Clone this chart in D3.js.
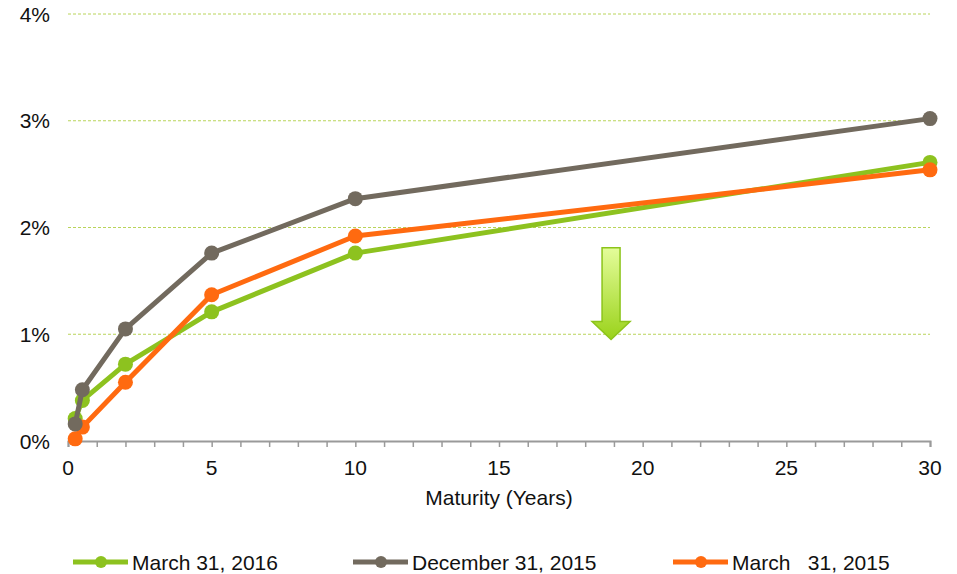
<!DOCTYPE html>
<html>
<head>
<meta charset="utf-8">
<script src="https://cdn.jsdelivr.net/npm/d3@7"></script>
<style>
  body { margin: 0; background: #fff; }
  svg { font-family: "Liberation Sans", Arial, sans-serif; }
</style>
</head>
<body>
<div id="chart"></div>
<script>
// maturities in years
var maturities = [0.25, 0.5, 2, 5, 10, 30]

// yields in percent
var mar2016 = [0.21, 0.38, 0.72, 1.21, 1.76, 2.61]
var dec2015 = [0.16, 0.48, 1.05, 1.76, 2.27, 3.02]
var mar2015 = [0.02, 0.13, 0.55, 1.37, 1.92, 2.54]

var seriesNames = ['March 31, 2016', 'December 31, 2015', 'March   31, 2015']
var seriesColors = ['#8dc21f', '#726a5e', '#ff6a10']

var xTicks = [0, 5, 10, 15, 20, 25, 30]
var yTicks = [0, 1, 2, 3, 4]

var margin = { top: 14, right: 27, bottom: 133, left: 68 },
    width = 957 - margin.left - margin.right,
    height = 574 - margin.top - margin.bottom;

var svg = d3.select("#chart")
    .append("svg")
    .attr("width", 957)
    .attr("height", 574)
    .append("g")
    .attr("transform", "translate(" + margin.left + "," + margin.top + ")");

var x = d3.scaleLinear().domain([0, 30]).range([0, width])
var y = d3.scaleLinear().domain([0, 4]).range([height, 0])

// gridlines
svg.append("g")
    .selectAll("line")
    .data(yTicks.filter(function (d) { return d > 0 }))
    .enter().append("line")
    .attr("x1", 0).attr("x2", width)
    .attr("y1", function (d) { return y(d) }).attr("y2", function (d) { return y(d) })
    .attr("stroke", "#b9d45a")
    .attr("stroke-width", 1)
    .attr("stroke-dasharray", "3,2")

// y labels
svg.append("g")
    .selectAll("text")
    .data(yTicks)
    .enter().append("text")
    .attr("x", -18)
    .attr("y", function (d) { return y(d) })
    .attr("dy", "0.36em")
    .attr("text-anchor", "end")
    .style("font-size", "21px")
    .attr("fill", "#111")
    .text(function (d) { return d + "%" })

// x axis
var xAxis = svg.append("g")
    .attr("transform", "translate(0," + height + ")")
    .call(d3.axisBottom(x).ticks(30).tickSize(6).tickFormat(""))
xAxis.select(".domain").attr("stroke", "#9a9a9a").attr("stroke-width", 2)
xAxis.selectAll(".tick line").attr("stroke", "#9a9a9a").attr("stroke-width", 1.5)

svg.append("g")
    .selectAll("text")
    .data(xTicks)
    .enter().append("text")
    .attr("x", function (d) { return x(d) })
    .attr("y", height + 34)
    .attr("text-anchor", "middle")
    .style("font-size", "21px")
    .attr("fill", "#111")
    .text(function (d) { return d })

svg.append("text")
    .attr("x", width / 2)
    .attr("y", height + 64)
    .attr("text-anchor", "middle")
    .style("font-size", "21px")
    .attr("fill", "#111")
    .text("Maturity (Years)")

// arrow annotation
var defs = svg.append("defs")
var grad = defs.append("linearGradient").attr("id", "arrowGrad")
    .attr("x1", 0).attr("y1", 0).attr("x2", 0).attr("y2", 1)
grad.append("stop").attr("offset", "0%").attr("stop-color", "#e4fd9a")
grad.append("stop").attr("offset", "100%").attr("stop-color", "#9ad21a")

var ax = x(18.9), aTop = y(1.81), aTip = y(0.95), aBase = aTip - 18
var arrowPts = [
    [ax - 9, aTop], [ax + 9, aTop], [ax + 9, aBase], [ax + 19, aBase],
    [ax, aTip], [ax - 19, aBase], [ax - 9, aBase]
]
svg.append("path")
    .attr("d", d3.line()(arrowPts) + "Z")
    .attr("fill", "url(#arrowGrad)")
    .attr("stroke", "#8cc41a")
    .attr("stroke-width", 1.5)

// series lines
var allSeries = [mar2016, dec2015, mar2015]
var line = d3.line()
    .x(function (d, i) { return x(maturities[i]) })
    .y(function (d) { return y(d) })

// draw order: green, orange, gray on top
var order = [0, 2, 1]
order.forEach(function (k) {
    var g = svg.append("g")
    g.append("path")
        .datum(allSeries[k])
        .attr("d", line)
        .attr("fill", "none")
        .attr("stroke", seriesColors[k])
        .attr("stroke-width", 5)
        .attr("stroke-linejoin", "round")
    g.selectAll("circle")
        .data(allSeries[k])
        .enter().append("circle")
        .attr("cx", function (d, i) { return x(maturities[i]) })
        .attr("cy", function (d) { return y(d) })
        .attr("r", 7.5)
        .attr("fill", seriesColors[k])
})

// legend
var legendX = [5, 285, 605]
var legend = svg.append("g").attr("transform", "translate(0," + (562 - margin.top) + ")")
seriesNames.forEach(function (name, i) {
    var lg = legend.append("g").attr("transform", "translate(" + legendX[i] + ",0)")
    lg.append("line").attr("x1", 0).attr("x2", 55).attr("y1", 0).attr("y2", 0)
        .attr("stroke", seriesColors[i]).attr("stroke-width", 5)
    lg.append("circle").attr("cx", 28).attr("cy", 0).attr("r", 6).attr("fill", seriesColors[i])
    lg.append("text").attr("x", 59).attr("y", 0).attr("dy", "0.36em")
        .style("font-size", "21px").style("white-space", "pre")
        .attr("fill", "#111")
        .text(name)
})
</script>
</body>
</html>
